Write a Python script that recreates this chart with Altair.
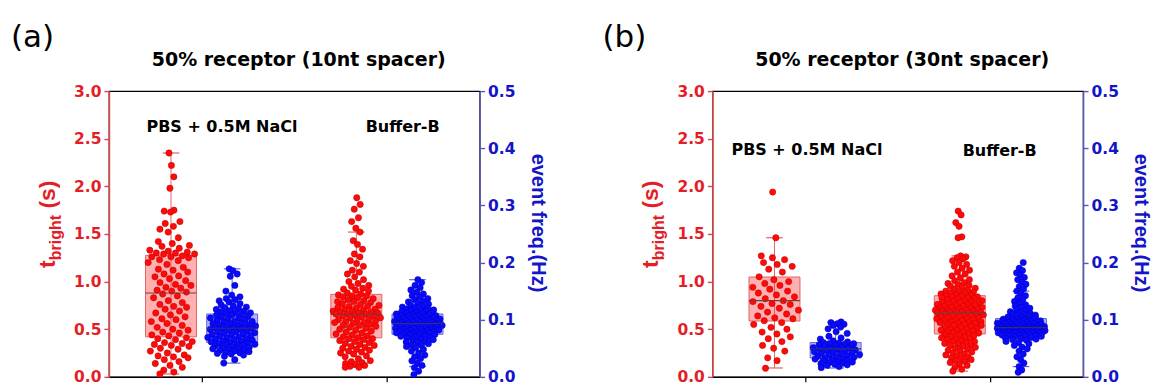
import altair as alt
import numpy as np
import pandas as pd

# ---------------- measurements ----------------
# t_bright in seconds, event frequency in Hz, one list per condition
a_pbs_t = [2.35, 2.22, 2.10, 1.98, 1.75, 1.74, 1.73, 1.63, 1.61, 1.58, 1.55, 1.52, 1.46, 1.42, 1.40,
           1.38, 1.37, 1.35, 1.33, 1.32, 1.31, 1.30, 1.30, 1.29, 1.29, 1.27, 1.26, 1.26, 1.25, 1.23,
           1.22, 1.20, 1.18, 1.15, 1.13, 1.12, 1.10, 1.08, 1.06, 1.05, 1.03, 1.01, 0.99, 0.97, 0.96,
           0.94, 0.93, 0.91, 0.90, 0.89, 0.87, 0.85, 0.83, 0.80, 0.78, 0.76, 0.74, 0.73, 0.71, 0.69,
           0.67, 0.65, 0.63, 0.61, 0.60, 0.58, 0.56, 0.54, 0.52, 0.50, 0.49, 0.47, 0.46, 0.44, 0.43,
           0.41, 0.40, 0.39, 0.37, 0.36, 0.35, 0.34, 0.33, 0.32, 0.30, 0.29, 0.27, 0.25, 0.23, 0.22,
           0.21, 0.20, 0.18, 0.16, 0.14, 0.12, 0.10, 0.07, 0.05, 0.03]
a_pbs_f = [0.189, 0.186, 0.180, 0.176, 0.160, 0.150, 0.143, 0.140, 0.137, 0.135, 0.133, 0.131, 0.128,
           0.126, 0.124, 0.122, 0.121, 0.119, 0.118, 0.116, 0.115, 0.114, 0.113, 0.112, 0.111, 0.109,
           0.108, 0.108, 0.106, 0.105, 0.103, 0.103, 0.101, 0.100, 0.099, 0.097, 0.097, 0.096, 0.094,
           0.093, 0.093, 0.091, 0.090, 0.089, 0.089, 0.088, 0.087, 0.086, 0.086, 0.085, 0.084, 0.083,
           0.083, 0.082, 0.080, 0.079, 0.079, 0.077, 0.076, 0.075, 0.074, 0.073, 0.072, 0.071, 0.070,
           0.069, 0.068, 0.067, 0.066, 0.065, 0.064, 0.063, 0.062, 0.061, 0.060, 0.059, 0.058, 0.057,
           0.057, 0.056, 0.055, 0.054, 0.053, 0.052, 0.051, 0.050, 0.049, 0.048, 0.047, 0.046, 0.045,
           0.044, 0.043, 0.042, 0.041, 0.040, 0.038, 0.036, 0.030, 0.024]
a_bb_t = [1.88, 1.81, 1.76, 1.67, 1.63, 1.56, 1.52, 1.43, 1.39, 1.34, 1.29, 1.26, 1.22, 1.19, 1.16,
          1.12, 1.10, 1.08, 1.05, 1.02, 1.00, 0.98, 0.96, 0.95, 0.93, 0.92, 0.91, 0.90, 0.88, 0.87,
          0.86, 0.85, 0.85, 0.84, 0.83, 0.82, 0.81, 0.80, 0.79, 0.79, 0.78, 0.77, 0.76, 0.75, 0.74,
          0.74, 0.73, 0.72, 0.71, 0.71, 0.70, 0.69, 0.69, 0.68, 0.68, 0.67, 0.67, 0.66, 0.66, 0.66,
          0.65, 0.64, 0.64, 0.63, 0.62, 0.62, 0.61, 0.60, 0.60, 0.59, 0.58, 0.57, 0.57, 0.56, 0.55,
          0.54, 0.54, 0.53, 0.52, 0.51, 0.50, 0.49, 0.48, 0.47, 0.46, 0.45, 0.44, 0.43, 0.42, 0.41,
          0.40, 0.40, 0.39, 0.38, 0.37, 0.36, 0.35, 0.34, 0.33, 0.32, 0.31, 0.30, 0.29, 0.28, 0.27,
          0.26, 0.25, 0.24, 0.22, 0.21, 0.19, 0.17, 0.16, 0.15, 0.14, 0.13, 0.12, 0.11, 0.10, 0.10]
a_bb_f = [0.170, 0.165, 0.160, 0.156, 0.152, 0.148, 0.145, 0.142, 0.140, 0.137, 0.135, 0.133, 0.131,
          0.129, 0.127, 0.125, 0.124, 0.122, 0.121, 0.120, 0.119, 0.118, 0.117, 0.116, 0.115, 0.114,
          0.113, 0.112, 0.111, 0.111, 0.110, 0.109, 0.109, 0.108, 0.107, 0.107, 0.106, 0.105, 0.105,
          0.104, 0.103, 0.103, 0.102, 0.101, 0.101, 0.100, 0.099, 0.099, 0.098, 0.098, 0.097, 0.097,
          0.096, 0.096, 0.095, 0.095, 0.094, 0.094, 0.093, 0.093, 0.092, 0.092, 0.091, 0.091, 0.090,
          0.090, 0.089, 0.088, 0.088, 0.087, 0.087, 0.086, 0.085, 0.085, 0.084, 0.083, 0.083, 0.082,
          0.081, 0.081, 0.080, 0.079, 0.079, 0.078, 0.077, 0.077, 0.076, 0.076, 0.075, 0.075, 0.074,
          0.073, 0.072, 0.071, 0.070, 0.069, 0.068, 0.066, 0.065, 0.064, 0.062, 0.061, 0.060, 0.058,
          0.056, 0.055, 0.053, 0.051, 0.048, 0.045, 0.042, 0.038, 0.035, 0.032, 0.028, 0.024, 0.020,
          0.016, 0.010, 0.004]
b_pbs_t = [1.94, 1.46, 1.27, 1.25, 1.23, 1.20, 1.18, 1.16, 1.13, 1.10, 1.05, 1.02, 1.00, 0.98, 0.96,
           0.94, 0.92, 0.90, 0.88, 0.86, 0.84, 0.82, 0.80, 0.79, 0.77, 0.76, 0.74, 0.72, 0.70, 0.68,
           0.66, 0.64, 0.62, 0.61, 0.59, 0.57, 0.55, 0.52, 0.50, 0.47, 0.45, 0.42, 0.40, 0.37, 0.33,
           0.30, 0.27, 0.20, 0.17, 0.09]
b_pbs_f = [0.096, 0.095, 0.093, 0.092, 0.090, 0.087, 0.084, 0.079, 0.076, 0.071, 0.068, 0.066, 0.063,
           0.061, 0.060, 0.059, 0.058, 0.058, 0.057, 0.056, 0.055, 0.054, 0.053, 0.052, 0.051, 0.050,
           0.050, 0.049, 0.048, 0.047, 0.046, 0.045, 0.044, 0.043, 0.042, 0.041, 0.040, 0.039, 0.038,
           0.037, 0.036, 0.035, 0.034, 0.033, 0.032, 0.031, 0.030, 0.029, 0.028, 0.027, 0.026, 0.025,
           0.024, 0.023, 0.022, 0.021, 0.020, 0.018, 0.016]
b_bb_t = [1.74, 1.70, 1.62, 1.58, 1.47, 1.46, 1.27, 1.26, 1.25, 1.24, 1.22, 1.20, 1.18, 1.16, 1.14,
          1.12, 1.10, 1.08, 1.06, 1.04, 1.02, 1.01, 0.99, 0.98, 0.97, 0.96, 0.95, 0.94, 0.93, 0.92,
          0.91, 0.90, 0.90, 0.89, 0.88, 0.88, 0.87, 0.86, 0.86, 0.85, 0.85, 0.84, 0.84, 0.83, 0.83,
          0.82, 0.82, 0.81, 0.80, 0.80, 0.79, 0.79, 0.78, 0.78, 0.77, 0.77, 0.76, 0.76, 0.75, 0.75,
          0.74, 0.74, 0.73, 0.73, 0.72, 0.72, 0.71, 0.71, 0.70, 0.70, 0.70, 0.69, 0.69, 0.69, 0.68,
          0.68, 0.68, 0.67, 0.67, 0.67, 0.66, 0.66, 0.65, 0.65, 0.64, 0.64, 0.63, 0.63, 0.62, 0.62,
          0.61, 0.61, 0.60, 0.60, 0.59, 0.59, 0.58, 0.58, 0.57, 0.57, 0.56, 0.56, 0.55, 0.55, 0.54,
          0.54, 0.53, 0.52, 0.52, 0.51, 0.50, 0.50, 0.49, 0.49, 0.48, 0.47, 0.47, 0.46, 0.46, 0.45,
          0.44, 0.44, 0.43, 0.42, 0.42, 0.41, 0.40, 0.40, 0.39, 0.38, 0.37, 0.37, 0.36, 0.35, 0.34,
          0.33, 0.33, 0.32, 0.31, 0.30, 0.29, 0.28, 0.27, 0.26, 0.25, 0.24, 0.23, 0.22, 0.21, 0.20,
          0.19, 0.18, 0.17, 0.16, 0.15, 0.13, 0.12, 0.10, 0.08, 0.06]
b_bb_f = [0.200, 0.190, 0.186, 0.182, 0.178, 0.174, 0.170, 0.166, 0.162, 0.158, 0.154, 0.150, 0.146,
          0.142, 0.138, 0.135, 0.132, 0.129, 0.126, 0.124, 0.122, 0.120, 0.118, 0.116, 0.114, 0.112,
          0.111, 0.110, 0.109, 0.108, 0.107, 0.106, 0.105, 0.104, 0.103, 0.102, 0.101, 0.101, 0.100,
          0.100, 0.099, 0.099, 0.098, 0.098, 0.097, 0.097, 0.096, 0.096, 0.095, 0.095, 0.094, 0.094,
          0.093, 0.093, 0.092, 0.092, 0.091, 0.091, 0.090, 0.090, 0.089, 0.089, 0.088, 0.088, 0.088,
          0.087, 0.087, 0.087, 0.086, 0.086, 0.086, 0.085, 0.085, 0.085, 0.084, 0.084, 0.084, 0.083,
          0.083, 0.083, 0.082, 0.082, 0.082, 0.082, 0.081, 0.081, 0.081, 0.081, 0.080, 0.080, 0.080,
          0.080, 0.079, 0.079, 0.079, 0.079, 0.079, 0.078, 0.078, 0.078, 0.078, 0.078, 0.078, 0.078,
          0.078, 0.077, 0.077, 0.076, 0.076, 0.075, 0.075, 0.074, 0.074, 0.073, 0.073, 0.072, 0.072,
          0.071, 0.071, 0.070, 0.069, 0.068, 0.067, 0.066, 0.065, 0.064, 0.062, 0.060, 0.058, 0.055,
          0.052, 0.049, 0.045, 0.040, 0.035, 0.030, 0.024, 0.018, 0.012, 0.008]

# box summaries, order: PBS t_bright, PBS freq, Buffer-B t_bright, Buffer-B freq
a_q1 = [0.42, 0.060, 0.41, 0.0745]
a_med = [0.88, 0.085, 0.655, 0.093]
a_q3 = [1.275, 0.110, 0.866, 0.110]
a_lo = [0.03, 0.024, 0.10, 0.018]
a_hi = [2.35, 0.189, 1.52, 0.170]
b_q1 = [0.586, 0.033, 0.45, 0.078]
b_med = [0.80, 0.049, 0.666, 0.086]
b_q3 = [1.048, 0.060, 0.852, 0.102]
b_lo = [0.093, 0.0155, 0.06, 0.018]
b_hi = [1.46, 0.096, 1.27, 0.150]

conditions = ["PBS + 0.5M NaCl", "Buffer-B"]
panel_titles = ["50% receptor (10nt spacer)", "50% receptor (30nt spacer)"]
panel_tags = ["(a)", "(b)"]
left_title = ["t", "bright", "(s)"]
right_title = "event freq.(Hz)"

# ---------------- layout / style ----------------
W, H = 371, 286
GROUP_X = [0.67, 1.33, 2.67, 3.33]
HALF_BOX = 0.275
CAP = 0.09
FONT = "Liberation Sans"       # upright titles along the y axes
WIDE = "DejaVu Sans"           # wide bold face for horizontal text

RED_DOT, RED_DOT_EDGE = "#ff0a0a", "#c00000"
RED_FILL, RED_EDGE = "#ff3c3c", "#e06464"
RED_TXT, RED_AXIS = "#e41e26", "#d84848"
BLUE_DOT, BLUE_DOT_EDGE = "#0a0aff", "#0000b0"
BLUE_FILL, BLUE_EDGE = "#3c3cff", "#6464d8"
BLUE_TXT, BLUE_AXIS = "#1414c8", "#5a5ab4"

xs = alt.Scale(domain=[0, 4], nice=False, zero=False)
x_axis = alt.Axis(values=[1, 3], labels=False, ticks=True, tickSize=5, tickColor="black",
                  domainColor="black", domainWidth=1.2, tickWidth=1.2, grid=False)


def spread(vals, center, half, bw):
    """Horizontal offsets that widen where points are dense (swarm-like)."""
    v = np.asarray(vals, float)
    dens = np.array([np.sum(np.abs(v - x) < bw) for x in v], float)
    dens = dens / dens.max()
    order = np.argsort(v, kind="stable")
    offs = np.empty(len(v))
    for rank, i in enumerate(order):
        u = ((rank * 0.6180339887) % 1.0) * 2.0 - 1.0
        offs[i] = u * half * dens[i] ** 0.7
    return center + offs


def X(field):
    return alt.X(field, type="quantitative", scale=xs, axis=x_axis, title=None)


def side(points, boxes, caps, labels, domain, axis, fill, edge, dot, dot_edge, med_col):
    ys = alt.Scale(domain=domain, nice=False, zero=False)

    def Y(field):
        return alt.Y(field, type="quantitative", scale=ys, axis=axis, title=None)

    whisk = alt.Chart(boxes).mark_rule(color=edge, strokeWidth=1).encode(
        x=X("xc"), y=Y("lo"), y2="hi")
    cap = alt.Chart(caps).mark_rule(color=edge, strokeWidth=1.2).encode(
        x=X("cl"), x2="cr", y=Y("yv"))
    box = alt.Chart(boxes).mark_rect(fill=fill, fillOpacity=0.4, stroke=edge, strokeWidth=1).encode(
        x=X("xl"), x2="xr", y=Y("q1"), y2="q3")
    dots = alt.Chart(points).mark_point(filled=True, shape="circle", size=40, fill=dot,
                                        stroke=dot_edge, strokeWidth=0.5, opacity=1).encode(
        x=X("x"), y=Y("v"))
    med = alt.Chart(boxes).mark_rule(color=med_col, strokeWidth=1.2).encode(
        x=X("xl"), x2="xr", y=Y("med"))
    layers = [whisk, cap, box, dots, med]
    if labels is not None:
        layers.append(alt.Chart(labels).mark_text(font=WIDE, fontSize=16, fontWeight="bold",
                                                  color="black").encode(
            x=X("lx"), y=Y("ly"), text="s:N"))
    return alt.layer(*layers)


def text(s, x, y, size, color="black", weight="bold", angle=0, align="center",
         baseline="middle", font=FONT):
    props = dict(font=font, fontSize=size, fontWeight=weight, color=color,
                 align=align, baseline=baseline)
    if angle:
        props["angle"] = angle
    return alt.Chart(pd.DataFrame({"s": [s]})).mark_text(**props).encode(
        x=alt.value(x), y=alt.value(y), text="s:N")


def panel(idx, series, q1, med, q3, lo, hi, label_x, label_y):
    kinds = ["t", "f", "t", "f"]
    pts = {"t": [], "f": []}
    for vals, cx, kind in zip(series, GROUP_X, kinds):
        bw = 0.12 if kind == "t" else 0.02
        pts[kind].append(pd.DataFrame({"x": spread(vals, cx, 0.27, bw), "v": vals}))
    boxes = pd.DataFrame({"xc": GROUP_X,
                          "xl": [c - HALF_BOX for c in GROUP_X],
                          "xr": [c + HALF_BOX for c in GROUP_X],
                          "q1": q1, "med": med, "q3": q3, "lo": lo, "hi": hi, "kind": kinds})
    caps = pd.concat([
        pd.DataFrame({"cl": boxes.xc - CAP, "cr": boxes.xc + CAP, "yv": boxes[k], "kind": kinds})
        for k in ("lo", "hi")])
    labels = pd.DataFrame({"lx": label_x, "ly": label_y, "s": conditions})

    left_axis = alt.Axis(orient="left", values=[0, 0.5, 1.0, 1.5, 2.0, 2.5, 3.0], format=".1f",
                         labelColor=RED_TXT, labelFont=WIDE, labelFontSize=15.5,
                         labelFontWeight="bold", labelPadding=3, tickSize=5,
                         tickColor=RED_AXIS, domainColor=RED_AXIS, domainWidth=1.6,
                         tickWidth=1.4, grid=False)
    right_axis = alt.Axis(orient="right", values=[0, 0.1, 0.2, 0.3, 0.4, 0.5], format=".1f",
                          labelColor=BLUE_TXT, labelFont=WIDE, labelFontSize=15.5,
                          labelFontWeight="bold", labelPadding=3, tickSize=5,
                          tickColor=BLUE_AXIS, domainColor=BLUE_AXIS, domainWidth=1.6,
                          tickWidth=1.4, grid=False)

    red = side(pd.concat(pts["t"]), boxes[boxes.kind == "t"], caps[caps.kind == "t"], labels,
               [0, 3], left_axis, RED_FILL, RED_EDGE, RED_DOT, RED_DOT_EDGE, "#7a3a3a")
    blue = side(pd.concat(pts["f"]), boxes[boxes.kind == "f"], caps[caps.kind == "f"], None,
                [0, 0.5], right_axis, BLUE_FILL, BLUE_EDGE, BLUE_DOT, BLUE_DOT_EDGE, "#303070")

    tag_x = -98 if idx == 0 else -110
    texts = [
        text(panel_tags[idx], tag_x, -53, 31, weight="normal", align="left", font=WIDE),
        text(panel_titles[idx], 190, -31, 19, font=WIDE),
        # t_bright with a subscript, reading bottom to top
        text(left_title[0], -54, 177, 23, color=RED_TXT, angle=270, align="left",
             baseline="alphabetic"),
        text(left_title[1], -48, 169.3, 16, color=RED_TXT, angle=270, align="left",
             baseline="alphabetic"),
        text(left_title[2], -54, 117.6, 23, color=RED_TXT, angle=270, align="left",
             baseline="alphabetic"),
        text(right_title, W + 58, 132, 20, color=BLUE_TXT, angle=90),
    ]
    return alt.layer(red, blue, *texts).resolve_scale(y="independent").properties(
        width=W, height=H)


pa = panel(0, [a_pbs_t, a_pbs_f, a_bb_t, a_bb_f], a_q1, a_med, a_q3, a_lo, a_hi,
           [1.22, 3.17], [2.62, 2.62])
pb = panel(1, [b_pbs_t, b_pbs_f, b_bb_t, b_bb_f], b_q1, b_med, b_q3, b_lo, b_hi,
           [1.02, 3.10], [2.38, 2.37])

chart = alt.hconcat(pa, pb, spacing=53).properties(
    padding={"left": 10, "top": 21, "right": 0, "bottom": 0},
    background="white",
).configure_view(stroke="black", strokeWidth=1.2)

chart.save("out.html", embed_options={"renderer": "svg", "actions": False})
